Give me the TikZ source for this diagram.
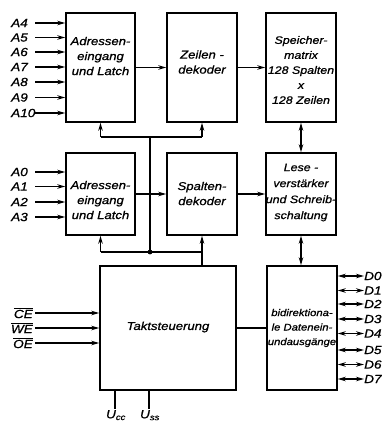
\documentclass[tikz,border=0pt]{standalone}
\usepackage{fontspec}
\setmainfont{Liberation Sans}[FakeStretch=1.15,FakeBold=0.9]
\usetikzlibrary{arrows.meta}
\begin{document}
\begin{tikzpicture}[x=1pt,y=-1pt,
  blk/.style={draw,line width=1.5pt,inner sep=0pt},
  txt/.style={font=\fontsize{11.4}{15}\selectfont\itshape,align=center,inner sep=0pt},
  lbl/.style={font=\fontsize{11.8}{13}\selectfont\itshape,inner sep=0pt},
  ln/.style={line width=1.4pt},
  arr/.style={ln,-{Stealth[length=8pt,width=4.5pt]}},
  barr/.style={ln,{Stealth[length=8pt,width=4.5pt]}-{Stealth[length=8pt,width=4.5pt]}}]
\useasboundingbox (0,0) rectangle (381,423);
% boxes
\node[blk,minimum width=69pt,minimum height=109pt] (adr1) at (100.5,67.5) {};
\node[blk,minimum width=70pt,minimum height=109pt] (zeil) at (202,67.5) {};
\node[blk,minimum width=70pt,minimum height=109pt] (spei) at (301,67.5) {};
\node[blk,minimum width=69pt,minimum height=82pt] (adr2) at (100.5,194) {};
\node[blk,minimum width=70pt,minimum height=82pt] (spal) at (202,194) {};
\node[blk,minimum width=70pt,minimum height=82pt] (lese) at (301,194) {};
\node[blk,minimum width=136pt,minimum height=124pt] (takt) at (168,328) {};
\node[blk,minimum width=70pt,minimum height=124pt] (bidi) at (302,328) {};
% box texts
\node[txt] (t1) at (100.5,56) {Adressen-\\eingang\\und Latch};
\node[txt] (t2) at (202,62) {Zeilen -\\dekoder};
\node[txt,font=\fontsize{10.8}{15}\selectfont\itshape] (t3) at (301,70) {Speicher-\\matrix\\128 Spalten\\x\\128 Zeilen};
\node[txt] (t4) at (100.5,200) {Adressen-\\eingang\\und Latch};
\node[txt] (t5) at (202,193.5) {Spalten-\\dekoder};
\node[txt,font=\fontsize{10.8}{16}\selectfont\itshape] (t6) at (301,192.5) {Lese -\\verstärker\\und Schreib-\\schaltung};
\node[txt] (t7) at (168,327) {Taktsteuerung};
\node[txt,font=\fontsize{9.8}{14.5}\selectfont\itshape] (t8) at (302,328) {bidirektiona-\\le Datenein-\\undausgänge};
% horizontal data flow
\draw[arr] (adr1) -- (zeil);
\draw[arr] (zeil) -- (spei);
\draw[arr] (adr2) -- (spal);
\draw[arr] (spal) -- (lese);
\draw[barr] (spei) -- (lese);
\draw[barr] (lese.south) -- (lese.south |- bidi.north);
\draw[ln] (takt) -- (bidi);
% clock distribution
\coordinate (h1) at (150,137);
\coordinate (h2) at (150,252);
\draw[ln] (adr1.south |- h1) -- (zeil.south |- h1);
\draw[arr] (adr1.south |- h1) -- (adr1.south);
\draw[arr] (zeil.south |- h1) -- (zeil.south);
\draw[ln] (h1) -- (h2);
\draw[ln] (adr2.south |- h2) -- (spal.south |- h2);
\draw[arr] (adr2.south |- h2) -- (adr2.south);
\draw[arr] (takt.north -| spal.south) -- (spal.south);
\fill (h2) circle (2.4);
% address inputs
\foreach \n/\y in {A4/23,A5/37.5,A6/52,A7/67,A8/82,A9/97.5,A10/113}{
  \node[lbl,anchor=west] (l\n) at (11,\y) {\n};
  \draw[arr] (35,\y) -- (adr1.west |- l\n);
}
\foreach \n/\y in {A0/172,A1/186.5,A2/202,A3/217}{
  \node[lbl,anchor=west] (l\n) at (11,\y) {\n};
  \draw[arr] (35,\y) -- (adr2.west |- l\n);
}
% control inputs
\foreach \n/\y in {CE/313,WE/328,OE/343}{
  \node[lbl,anchor=east] (c\n) at (33,\y) {$\overline{\mbox{\n}}$};
  \draw[arr] (c\n.east) ++(2,0) -- (takt.west |- c\n);
}
% supply
\coordinate (vcc) at (115,409);
\coordinate (vss) at (149,409);
\draw[ln] (takt.south -| vcc) -- (vcc);
\draw[ln] (takt.south -| vss) -- (vss);
\node[lbl,anchor=north] (ucc) at (116,410) {U\textsubscript{cc}};
\node[lbl,anchor=north] (uss) at (150,410) {U\textsubscript{ss}};
% data lines
\foreach \n/\y in {D0/276,D1/290.5,D2/304,D3/319,D4/333.5,D5/350,D6/364.5,D7/379}{
  \node[lbl,anchor=west] (d\n) at (364,\y) {\n};
  \draw[barr] (bidi.east |- d\n) -- (d\n.west);
}
\end{tikzpicture}
\end{document}
